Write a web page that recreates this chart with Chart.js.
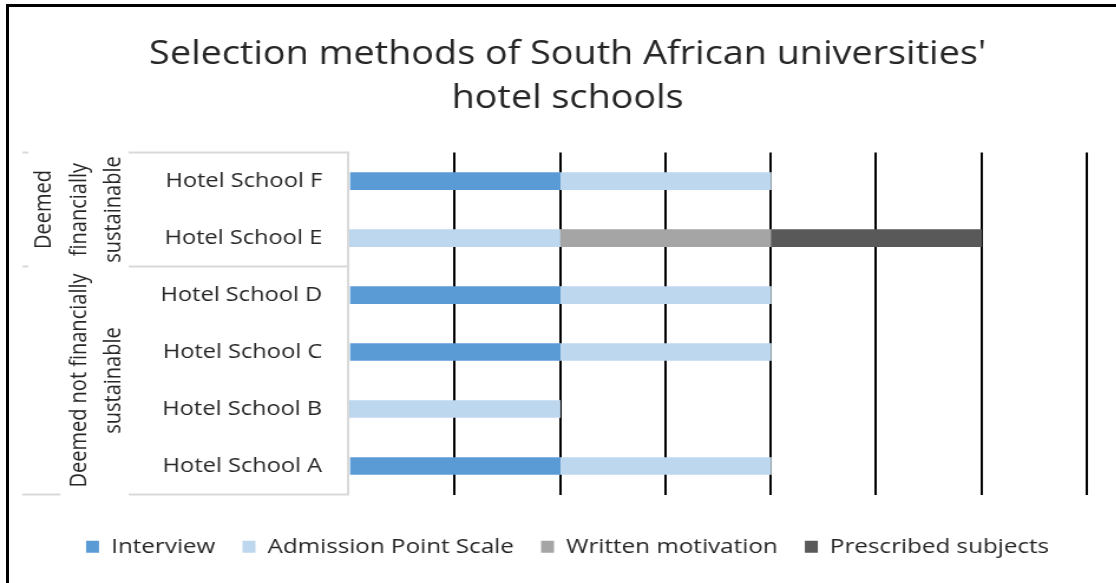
<!DOCTYPE html>
<html lang="en">
<head>
  <meta charset="UTF-8" />
  <title>Selection methods</title>
  <script src="https://cdn.jsdelivr.net/npm/chart.js"></script>
  <style>
    body {
      margin: 0;
      background: #fff;
      font-family: 'Open Sans', sans-serif;
    }

    .wrap {
      position: relative;
      width: 1116px;
      height: 583px;
      overflow: hidden;
    }

    .frame {
      position: absolute;
      left: 6px;
      top: 4px;
      width: 1200px;
      height: 700px;
      border-top: 3px solid #000;
      border-left: 3px solid #000;
      pointer-events: none;
    }

    /* the chart is drawn narrower and widened to the full box */
    .stretch {
      position: absolute;
      left: 0;
      top: 0;
      transform-origin: 0 0;
    }
  </style>
</head>
<body>
  <div class="wrap">
    <div class="stretch" id="stretch">
      <canvas id="chart" height="583"></canvas>
    </div>
    <div class="frame"></div>
  </div>

  <script>
    const schools = ['Hotel School F', 'Hotel School E', 'Hotel School D', 'Hotel School C', 'Hotel School B', 'Hotel School A'];
    const interview = [2, 0, 2, 2, 0, 2];
    const admissionPointScale = [2, 2, 2, 2, 2, 2];
    const writtenMotivation = [0, 2, 0, 0, 0, 0];
    const prescribedSubjects = [0, 2, 0, 0, 0, 0];

    // outer category level: label lines and how many schools each group covers
    const groupLabels = [
      ['Deemed', 'financially', 'sustainable'],
      ['Deemed not financially', 'sustainable']
    ];
    const groupSizes = [2, 4];

    const SCALE_X = 1.18;
    const FONT = "'Open Sans', sans-serif";
    const TEXT = '#262626';
    const LINE = '#d9d9d9';

    const canvas = document.getElementById('chart');
    canvas.width = Math.round(1116 / SCALE_X);
    document.getElementById('stretch').style.transform = 'scaleX(' + SCALE_X + ')';

    // draws the gray label box and the rotated group names left of the bars
    const groupAxis = {
      id: 'groupAxis',
      afterDraw(chart) {
        const { ctx, chartArea } = chart;
        const y = chart.scales.y;
        const step = (chartArea.bottom - chartArea.top) / schools.length;
        const left = chartArea.left;
        const boxLeft = left - 187;
        const outer = left - 277;

        ctx.save();
        ctx.strokeStyle = LINE;
        ctx.lineWidth = 2;

        ctx.beginPath();
        ctx.moveTo(left - 1, chartArea.top);
        ctx.lineTo(left - 1, chartArea.bottom);
        ctx.stroke();

        let start = 0;
        groupSizes.forEach((size, g) => {
          const top = y.getPixelForValue(start) - step / 2;
          const bottom = y.getPixelForValue(start + size - 1) + step / 2;

          ctx.strokeStyle = LINE;
          ctx.beginPath();
          ctx.moveTo(boxLeft, top);
          ctx.lineTo(left, top);
          ctx.moveTo(outer, top);
          ctx.lineTo(outer + 5, top);
          ctx.stroke();

          ctx.fillStyle = TEXT;
          ctx.font = '20px ' + FONT;
          ctx.textAlign = 'center';
          ctx.textBaseline = 'middle';
          const lines = groupLabels[g];
          const mid = (top + bottom) / 2;
          lines.forEach((txt, i) => {
            const x = boxLeft - 12.5 - (lines.length - 1 - i) * 29.7;
            ctx.save();
            ctx.translate(x, mid);
            ctx.rotate(-Math.PI / 2);
            ctx.fillText(txt, 0, 0);
            ctx.restore();
          });

          start += size;
        });

        ctx.strokeStyle = LINE;
        ctx.beginPath();
        ctx.moveTo(outer, chartArea.bottom);
        ctx.lineTo(outer + 32, chartArea.bottom);
        ctx.moveTo(boxLeft, chartArea.bottom);
        ctx.lineTo(left, chartArea.bottom);
        ctx.stroke();
        ctx.restore();
      }
    };

    const ctx = canvas.getContext('2d');
    new Chart(ctx, {
      type: 'bar',
      data: {
        labels: schools,
        datasets: [
          { label: 'Interview', data: interview, backgroundColor: '#5b9bd5' },
          { label: 'Admission Point Scale', data: admissionPointScale, backgroundColor: '#bdd7ee' },
          { label: 'Written motivation', data: writtenMotivation, backgroundColor: '#a5a5a5' },
          { label: 'Prescribed subjects', data: prescribedSubjects, backgroundColor: '#595959' }
        ]
      },
      options: {
        indexAxis: 'y',
        responsive: false,
        animation: false,
        barThickness: 17,
        layout: { padding: { left: 41, top: 0, right: 25, bottom: 16 } },
        scales: {
          x: {
            stacked: true,
            min: 0,
            max: 7,
            ticks: { display: false, stepSize: 1 },
            grid: {
              drawTicks: false,
              lineWidth: 2,
              color: c => (c.tick && c.tick.value === 0 ? 'rgba(0,0,0,0)' : '#000')
            },
            border: { display: false },
            afterFit: s => { s.height = 19; }
          },
          y: {
            stacked: true,
            grid: { display: false, drawTicks: false },
            border: { display: false },
            ticks: {
              color: TEXT,
              padding: 23,
              font: { family: FONT, size: 20 }
            },
            afterFit: s => { s.width = 255; }
          }
        },
        plugins: {
          title: {
            display: true,
            text: ["Selection methods of South African universities'", 'hotel schools'],
            color: TEXT,
            font: { family: FONT, size: 32, weight: 'normal', lineHeight: 1.4 },
            padding: { top: 32, bottom: 31 }
          },
          legend: {
            position: 'bottom',
            labels: {
              color: TEXT,
              boxWidth: 11,
              boxHeight: 12,
              padding: 23,
              font: { family: FONT, size: 20.5 }
            }
          },
          tooltip: { enabled: false }
        }
      },
      plugins: [groupAxis]
    });
  </script>
</body>
</html>
